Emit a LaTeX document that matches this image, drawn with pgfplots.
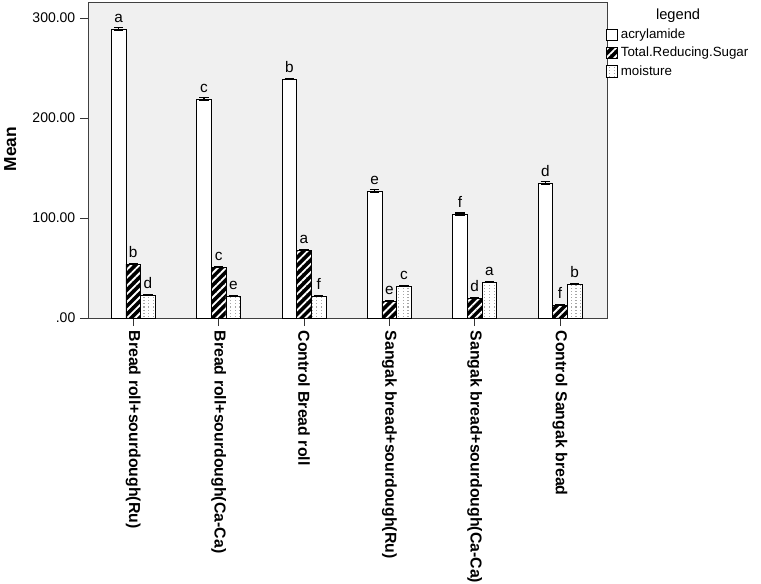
\documentclass[border=0pt]{standalone}
\usepackage{fontspec}
\setmainfont{Liberation Sans}
\usepackage{pgfplots}
\pgfplotsset{compat=1.18}
\usetikzlibrary{patterns,patterns.meta}

% grey dot columns used by the moisture bars
\pgfdeclarepatternformonly{vdots}{\pgfqpoint{-1pt}{-1pt}}{\pgfqpoint{1pt}{1pt}}{\pgfqpoint{3.6pt}{2.3pt}}{%
  \pgfpathrectangle{\pgfqpoint{-0.4pt}{-0.4pt}}{\pgfqpoint{0.8pt}{0.8pt}}\pgfusepath{fill}}

\begin{document}
\begin{tikzpicture}
\begin{axis}[
    ybar=0pt,
    bar width=11pt,
    scale only axis,
    width=389.25pt,
    height=237pt,
    xmin=-0.53, xmax=5.55,
    ymin=0, ymax=316,
    clip=false,
    axis background/.style={fill=gray!12},
    axis line style={black!75},
    tick align=outside,
    tick pos=left,
    major tick length=6pt,
    tick style={black!80, line width=0.6pt},
    xtick={0,1,2,3,4,5},
    xticklabels={Bread roll+sourdough(Ru), Bread roll+sourdough(Ca-Ca), Control Bread roll,
        Sangak bread+sourdough(Ru), Sangak bread+sourdough(Ca-Ca), Control Sangak bread},
    xticklabel style={rotate=-90, anchor=west, font=\bfseries\fontsize{11.9}{13}\selectfont},
    ytick={0,100,200,300},
    yticklabels={.00,100.00,200.00,300.00},
    yticklabel style={font=\fontsize{10.5}{12}\selectfont},
    ylabel={Mean},
    ylabel style={at={(axis description cs:-0.150,0.535)}, anchor=center, font=\bfseries\fontsize{13}{15}\selectfont},
    every axis plot/.append style={draw=black, line width=0.6pt},
    error bars/y dir=both,
    error bars/y explicit,
    error bars/error mark options={rotate=90, mark size=3.5pt, line width=0.9pt, black},
    error bars/error bar style={line width=0.9pt, black},
    nodes near coords,
    point meta=explicit symbolic,
    nodes near coords style={font=\fontsize{11.5}{13}\selectfont, anchor=south, yshift=1pt, text=black},
    legend style={at={(axis description cs:1,1)}, anchor=north west, yshift=-18pt, xshift=-1pt,
        draw=none, fill=none, inner sep=0pt, row sep=1pt,
        font=\fontsize{10}{11.5}\selectfont, legend cell align=left},
    legend image code/.code={\draw[#1, line width=0.6pt] (0pt,-4.3pt) rectangle (8.6pt,4.3pt);},
]
\addplot[fill=white] table[x=x, y=y, y error=e, meta=l] {
x y e l
0 289 1.2 a
1 219 1.5 c
2 239 0.6 b
3 127 1.2 e
4 104 1.0 f
5 135 1.5 d
};
\addplot[fill=black, postaction={pattern={Lines[angle=45, distance=4.3pt, line width=1.4pt]}, pattern color=white}]
table[x=x, y=y, y error=e, meta=l] {
x y e l
0 54 0.4 b
1 51 0.4 c
2 68 0.4 a
3 17 0.4 e
4 20 0.4 d
5 13 0.4 f
};
\addplot[fill=white, postaction={pattern=vdots, pattern color=gray!70}]
table[x=x, y=y, y error=e, meta=l] {
x y e l
0 23 0.4 d
1 22 0.4 e
2 22 0.4 f
3 32 0.4 c
4 36 0.4 a
5 34 0.4 b
};
\legend{acrylamide, Total.Reducing.Sugar, moisture}
\node[font=\fontsize{11}{13}\selectfont] at (axis description cs:1.137,0.958) {legend};
\coordinate (ll) at (axis description cs:0,0);
\end{axis}
\pgfresetboundingbox
\path ([shift={(-66pt,-198.75pt)}]ll) rectangle ([shift={(504.75pt,238.5pt)}]ll);
\end{tikzpicture}
\end{document}
